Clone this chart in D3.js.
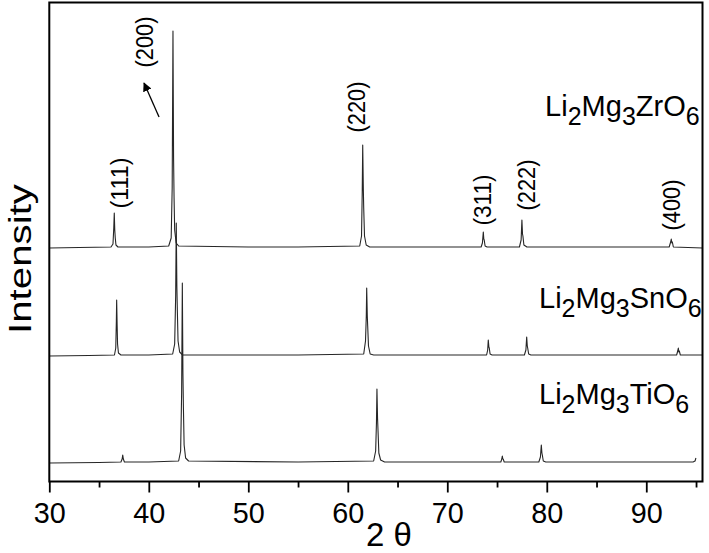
<!DOCTYPE html>
<html>
<head>
<meta charset="utf-8">
<script src="https://d3js.org/d3.v7.min.js"></script>
<style>
  body { margin: 0; background: #fff; }
  svg { display: block; font-family: Arial, "Liberation Sans", sans-serif; }
</style>
</head>
<body>
<svg id="chart" width="709" height="553"></svg>
<script>
// x-axis ticks (2 theta, degrees)
var majorTicks = [30, 40, 50, 60, 70, 80, 90];
var minorTicks = [35, 45, 55, 65, 75, 85, 95];

// samples, stacked from top to bottom, and their vertical offsets (a.u.)
var sampleNames = ["Li2Mg3ZrO6", "Li2Mg3SnO6", "Li2Mg3TiO6"];
var sampleOffsets = [215, 107, 0];

// patterns: [2 theta, intensity above own baseline]
var zrO6 = [
  [30.0, 0], [33.0, 0.5], [36.2, 1], [36.4, 4], [36.48, 20], [36.53, 35], [36.58, 18], [36.63, 10], [36.7, 3], [36.9, 1],
  [40.0, 1], [42.0, 2], [42.25, 10], [42.35, 60], [42.43, 217], [42.49, 90], [42.54, 50], [42.6, 18], [42.75, 5], [43.0, 2],
  [50.0, 1], [55.0, 1], [61.2, 2], [61.38, 12], [61.45, 55], [61.5, 103], [61.56, 60], [61.6, 40], [61.68, 12], [61.85, 3], [62.2, 1],
  [70.0, 1], [73.4, 1], [73.53, 5], [73.62, 16], [73.67, 9], [73.71, 8], [73.8, 2], [74.0, 1],
  [77.25, 1], [77.42, 8], [77.5, 28], [77.56, 14], [77.6, 12], [77.7, 3], [78.0, 1],
  [85.0, 1], [92.3, 1], [92.45, 6], [92.51, 9], [92.57, 5], [92.62, 6], [92.72, 1], [95.65, 0]
];
var snO6 = [
  [30.0, 0], [34.0, 0.5], [36.55, 1], [36.68, 8], [36.74, 35], [36.77, 56], [36.82, 30], [36.86, 12], [36.95, 3], [37.2, 1],
  [40.0, 1], [42.4, 2], [42.6, 12], [42.7, 60], [42.76, 133], [42.82, 70], [42.87, 45], [42.94, 15], [43.1, 4], [43.4, 1],
  [55.0, 1], [61.6, 2], [61.78, 15], [61.86, 40], [61.9, 68], [61.96, 40], [62.0, 30], [62.08, 10], [62.25, 2], [62.6, 1],
  [72.0, 1], [73.95, 1], [74.06, 6], [74.12, 16], [74.18, 9], [74.22, 8], [74.3, 2], [74.5, 1],
  [77.75, 1], [77.9, 6], [77.98, 19], [78.04, 10], [78.08, 8], [78.18, 2], [78.4, 1],
  [90.0, 1], [93.05, 1], [93.16, 5], [93.22, 8], [93.27, 4], [93.32, 5], [93.42, 1], [95.65, 1]
];
var tiO6 = [
  [30.0, 0], [35.0, 0.5], [37.2, 1], [37.32, 4], [37.38, 8], [37.44, 4], [37.55, 1],
  [40.0, 1], [43.0, 2], [43.2, 12], [43.3, 70], [43.37, 180], [43.43, 90], [43.48, 55], [43.55, 18], [43.7, 5], [44.0, 2],
  [55.0, 1], [62.6, 2], [62.8, 12], [62.88, 40], [62.93, 74], [62.99, 45], [63.04, 32], [63.12, 10], [63.3, 3], [63.7, 1],
  [73.0, 1], [75.38, 1], [75.48, 4], [75.53, 7], [75.58, 4], [75.62, 4], [75.72, 1],
  [79.2, 1], [79.36, 6], [79.45, 18], [79.51, 10], [79.55, 8], [79.65, 2], [79.9, 1],
  [90.0, 1], [94.7, 1], [94.9, 2], [94.99, 5]
];
var patterns = [zrO6, snO6, tiO6];

// Miller indices marked on the top pattern
var hklLabels = ["(111)", "(200)", "(220)", "(311)", "(222)", "(400)"];

// layout of the annotations, in chart units [2 theta, intensity]
var hklAt = [[37.11, 280], [39.62, 421], [60.92, 356], [73.59, 263], [78.01, 278], [92.59, 258]];
var nameAt = [[79.83, 347], [79.22, 155], [79.22, 59]];
var arrowFrom = [41.03, 346], arrowTo = [39.52, 380];

var svg = d3.select("#chart"),
  width = +svg.attr("width"),
  height = +svg.attr("height"),
  margin = {top: 2.5, right: 6.5, bottom: 71.5, left: 49.3};

var x = d3.scaleLinear()
  .domain([30, 95.65])
  .range([margin.left, width - margin.right]);

var y = d3.scaleLinear()
  .domain([-18.5, 460.5])
  .range([height - margin.bottom, margin.top]);

var line = d3.line()
  .x(function(d) { return x(d[0]); })
  .y(function(d) { return y(d[1]); });

// patterns
svg.append("g")
  .selectAll("path")
  .data(patterns)
  .enter().append("path")
    .attr("fill", "none")
    .attr("stroke", "#262626")
    .attr("stroke-width", 1.1)
    .attr("stroke-linejoin", "round")
    .attr("d", function(d, i) {
      var off = sampleOffsets[i];
      return line(d.map(function(p) { return [p[0], p[1] + off]; }));
    });

// axes
var axisY = height - margin.bottom;

var minor = svg.append("g")
  .attr("transform", "translate(0," + axisY + ")")
  .call(d3.axisBottom(x).tickValues(minorTicks).tickSize(6).tickFormat(""));
minor.select(".domain").remove();

var major = svg.append("g")
  .attr("transform", "translate(0," + axisY + ")")
  .call(d3.axisBottom(x).tickValues(majorTicks).tickSize(11).tickPadding(10).tickFormat(d3.format("d")));
major.select(".domain").remove();
major.selectAll("text")
  .attr("font-size", 29)
  .attr("font-family", "Arial, 'Liberation Sans', sans-serif")
  .attr("textLength", 32)
  .attr("lengthAdjust", "spacingAndGlyphs")
  .attr("fill", "#000");

svg.selectAll(".tick line")
  .attr("stroke", "#000")
  .attr("stroke-width", 1.8);

// frame
svg.append("rect")
  .attr("x", margin.left)
  .attr("y", margin.top)
  .attr("width", width - margin.left - margin.right)
  .attr("height", height - margin.top - margin.bottom)
  .attr("fill", "none")
  .attr("stroke", "#000")
  .attr("stroke-width", 2);

// axis titles
svg.append("text")
  .attr("x", 389)
  .attr("y", 546)
  .attr("text-anchor", "middle")
  .attr("font-size", 33)
  .text("2 \u03b8");

svg.append("text")
  .attr("transform", "translate(31,259)rotate(-90)")
  .attr("text-anchor", "middle")
  .attr("font-size", 31)
  .attr("textLength", 150)
  .attr("lengthAdjust", "spacingAndGlyphs")
  .text("Intensity");

// hkl labels
svg.append("g")
  .selectAll("text")
  .data(hklLabels)
  .enter().append("text")
    .attr("transform", function(d, i) { return "translate(" + x(hklAt[i][0]) + "," + y(hklAt[i][1]) + ")rotate(-90)"; })
    .attr("text-anchor", "middle")
    .attr("dy", "0.35em")
    .attr("font-size", 23)
    .attr("textLength", 51)
    .attr("lengthAdjust", "spacingAndGlyphs")
    .text(function(d) { return d; });

// arrow to the (200) peak label
svg.append("defs").append("marker")
  .attr("id", "head")
  .attr("viewBox", "0 0 10 10")
  .attr("refX", 9)
  .attr("refY", 5)
  .attr("markerWidth", 9)
  .attr("markerHeight", 9)
  .attr("markerUnits", "userSpaceOnUse")
  .attr("orient", "auto")
  .append("path")
    .attr("d", "M0,0L10,5L0,10Z")
    .attr("fill", "#000");

svg.append("line")
  .attr("x1", x(arrowFrom[0]))
  .attr("y1", y(arrowFrom[1]))
  .attr("x2", x(arrowTo[0]))
  .attr("y2", y(arrowTo[1]))
  .attr("stroke", "#000")
  .attr("stroke-width", 1.3)
  .attr("marker-end", "url(#head)");

// sample names with subscript digits
var names = svg.append("g")
  .selectAll("text")
  .data(sampleNames)
  .enter().append("text")
    .attr("x", function(d, i) { return x(nameAt[i][0]); })
    .attr("y", function(d, i) { return y(nameAt[i][1]); })
    .attr("font-size", 29);

names.each(function(name) {
  var t = d3.select(this);
  var parts = name.match(/[0-9]+|[^0-9]+/g);
  var low = false;
  parts.forEach(function(p) {
    var isSub = /^[0-9]+$/.test(p);
    var dy = 0;
    if (isSub && !low) { dy = 9; low = true; }
    else if (!isSub && low) { dy = -9; low = false; }
    t.append("tspan")
      .attr("dy", dy)
      .attr("font-size", isSub ? 25 : 29)
      .text(p);
  });
});
</script>
</body>
</html>
